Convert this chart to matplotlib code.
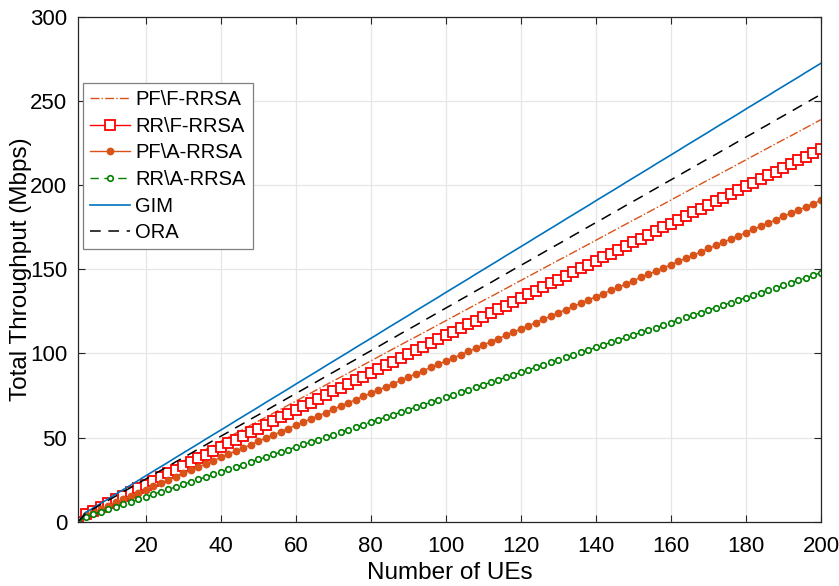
import matplotlib
matplotlib.use("Agg")
import matplotlib.pyplot as plt

# Number of UEs (every second UE from 2 to 200)
num_ues = list(range(2, 201, 2))

pf_f_rrsa = [0.0, 4.8, 7.2, 9.6, 12.0, 14.3, 16.7, 19.1, 21.5, 23.9,
             26.3, 28.7, 31.1, 33.5, 35.9, 38.2, 40.6, 43.0, 45.4, 47.8,
             50.2, 52.6, 55.0, 57.4, 59.8, 62.1, 64.5, 66.9, 69.3, 71.7,
             74.1, 76.5, 78.9, 81.3, 83.7, 86.0, 88.4, 90.8, 93.2, 95.6,
             98.0, 100.4, 102.8, 105.2, 107.6, 109.9, 112.3, 114.7, 117.1, 119.5,
             121.9, 124.3, 126.7, 129.1, 131.5, 133.8, 136.2, 138.6, 141.0, 143.4,
             145.8, 148.2, 150.6, 153.0, 155.4, 157.7, 160.1, 162.5, 164.9, 167.3,
             169.7, 172.1, 174.5, 176.9, 179.3, 181.6, 184.0, 186.4, 188.8, 191.2,
             193.6, 196.0, 198.4, 200.8, 203.2, 205.5, 207.9, 210.3, 212.7, 215.1,
             217.5, 219.9, 222.3, 224.7, 227.1, 229.4, 231.8, 234.2, 236.6, 239.0]

rr_f_rrsa = [0.0, 4.4, 6.6, 8.9, 11.1, 13.3, 15.5, 17.7, 19.9, 22.1,
             24.4, 26.6, 28.8, 31.0, 33.2, 35.4, 37.6, 39.9, 42.1, 44.3,
             46.5, 48.7, 50.9, 53.1, 55.4, 57.6, 59.8, 62.0, 64.2, 66.4,
             68.6, 70.8, 73.1, 75.3, 77.5, 79.7, 81.9, 84.1, 86.3, 88.6,
             90.8, 93.0, 95.2, 97.4, 99.6, 101.8, 104.1, 106.3, 108.5, 110.7,
             112.9, 115.1, 117.3, 119.6, 121.8, 124.0, 126.2, 128.4, 130.6, 132.8,
             135.1, 137.3, 139.5, 141.7, 143.9, 146.1, 148.3, 150.6, 152.8, 155.0,
             157.2, 159.4, 161.6, 163.8, 166.1, 168.3, 170.5, 172.7, 174.9, 177.1,
             179.3, 181.5, 183.8, 186.0, 188.2, 190.4, 192.6, 194.8, 197.0, 199.3,
             201.5, 203.7, 205.9, 208.1, 210.3, 212.5, 214.8, 217.0, 219.2, 221.4]

pf_a_rrsa = [0.0, 3.8, 5.7, 7.6, 9.6, 11.5, 13.4, 15.3, 17.2, 19.1,
             21.0, 22.9, 24.8, 26.7, 28.7, 30.6, 32.5, 34.4, 36.3, 38.2,
             40.1, 42.0, 43.9, 45.8, 47.8, 49.7, 51.6, 53.5, 55.4, 57.3,
             59.2, 61.1, 63.0, 64.9, 66.9, 68.8, 70.7, 72.6, 74.5, 76.4,
             78.3, 80.2, 82.1, 84.0, 86.0, 87.9, 89.8, 91.7, 93.6, 95.5,
             97.4, 99.3, 101.2, 103.1, 105.1, 107.0, 108.9, 110.8, 112.7, 114.6,
             116.5, 118.4, 120.3, 122.2, 124.2, 126.1, 128.0, 129.9, 131.8, 133.7,
             135.6, 137.5, 139.4, 141.3, 143.3, 145.2, 147.1, 149.0, 150.9, 152.8,
             154.7, 156.6, 158.5, 160.4, 162.4, 164.3, 166.2, 168.1, 170.0, 171.9,
             173.8, 175.7, 177.6, 179.5, 181.5, 183.4, 185.3, 187.2, 189.1, 191.0]

rr_a_rrsa = [0.0, 3.0, 4.4, 5.9, 7.4, 8.9, 10.4, 11.8, 13.3, 14.8,
             16.3, 17.8, 19.2, 20.7, 22.2, 23.7, 25.2, 26.6, 28.1, 29.6,
             31.1, 32.6, 34.0, 35.5, 37.0, 38.5, 40.0, 41.4, 42.9, 44.4,
             45.9, 47.4, 48.8, 50.3, 51.8, 53.3, 54.8, 56.2, 57.7, 59.2,
             60.7, 62.2, 63.6, 65.1, 66.6, 68.1, 69.6, 71.0, 72.5, 74.0,
             75.5, 77.0, 78.4, 79.9, 81.4, 82.9, 84.4, 85.8, 87.3, 88.8,
             90.3, 91.8, 93.2, 94.7, 96.2, 97.7, 99.2, 100.6, 102.1, 103.6,
             105.1, 106.6, 108.0, 109.5, 111.0, 112.5, 114.0, 115.4, 116.9, 118.4,
             119.9, 121.4, 122.8, 124.3, 125.8, 127.3, 128.8, 130.2, 131.7, 133.2,
             134.7, 136.2, 137.6, 139.1, 140.6, 142.1, 143.6, 145.0, 146.5, 148.0]

gim = [0.0, 5.5, 8.2, 10.9, 13.6, 16.4, 19.1, 21.8, 24.5, 27.3,
       30.0, 32.7, 35.4, 38.2, 40.9, 43.6, 46.3, 49.1, 51.8, 54.5,
       57.2, 60.0, 62.7, 65.4, 68.1, 70.9, 73.6, 76.3, 79.0, 81.8,
       84.5, 87.2, 89.9, 92.7, 95.4, 98.1, 100.8, 103.6, 106.3, 109.0,
       111.7, 114.5, 117.2, 119.9, 122.6, 125.4, 128.1, 130.8, 133.5, 136.3,
       139.0, 141.7, 144.4, 147.2, 149.9, 152.6, 155.3, 158.1, 160.8, 163.5,
       166.2, 169.0, 171.7, 174.4, 177.1, 179.9, 182.6, 185.3, 188.0, 190.8,
       193.5, 196.2, 198.9, 201.7, 204.4, 207.1, 209.8, 212.6, 215.3, 218.0,
       220.7, 223.5, 226.2, 228.9, 231.6, 234.4, 237.1, 239.8, 242.5, 245.3,
       248.0, 250.7, 253.4, 256.2, 258.9, 261.6, 264.3, 267.1, 269.8, 272.5]

ora = [0.0, 5.1, 7.6, 10.2, 12.7, 15.2, 17.8, 20.3, 22.9, 25.4,
       27.9, 30.5, 33.0, 35.6, 38.1, 40.6, 43.2, 45.7, 48.3, 50.8,
       53.3, 55.9, 58.4, 61.0, 63.5, 66.0, 68.6, 71.1, 73.7, 76.2,
       78.7, 81.3, 83.8, 86.4, 88.9, 91.4, 94.0, 96.5, 99.1, 101.6,
       104.1, 106.7, 109.2, 111.8, 114.3, 116.8, 119.4, 121.9, 124.5, 127.0,
       129.5, 132.1, 134.6, 137.2, 139.7, 142.2, 144.8, 147.3, 149.9, 152.4,
       154.9, 157.5, 160.0, 162.6, 165.1, 167.6, 170.2, 172.7, 175.3, 177.8,
       180.3, 182.9, 185.4, 188.0, 190.5, 193.0, 195.6, 198.1, 200.7, 203.2,
       205.7, 208.3, 210.8, 213.4, 215.9, 218.4, 221.0, 223.5, 226.1, 228.6,
       231.1, 233.7, 236.2, 238.8, 241.3, 243.8, 246.4, 248.9, 251.5, 254.0]

x_ticks = [20, 40, 60, 80, 100, 120, 140, 160, 180, 200]
y_ticks = [0, 50, 100, 150, 200, 250, 300]

plt.rcParams['font.family'] = ['Liberation Sans', 'DejaVu Sans']

fig = plt.figure(figsize=(8.39, 5.86), dpi=100)
ax = fig.add_axes([0.0933, 0.1097, 0.8852, 0.8613])

orange = '#D95319'
blue = '#0072BD'
green = '#008000'

ax.plot(num_ues, pf_f_rrsa, color=orange, linestyle='-.', linewidth=1.0,
        label='PF\\F-RRSA')
ax.plot(num_ues, rr_f_rrsa, color='red', linestyle='-', linewidth=1.0,
        marker='s', markersize=7, markerfacecolor='white',
        markeredgecolor='red', markeredgewidth=1.3, label='RR\\F-RRSA')
ax.plot(num_ues, pf_a_rrsa, color=orange, linestyle='-', linewidth=1.0,
        marker='o', markersize=4.6, markerfacecolor=orange,
        markeredgecolor=orange, label='PF\\A-RRSA')
ax.plot(num_ues, rr_a_rrsa, color=green, linestyle=(0, (6, 4)), linewidth=1.0,
        marker='o', markersize=4.0, markerfacecolor='white',
        markeredgecolor=green, markeredgewidth=1.2, label='RR\\A-RRSA')
ax.plot(num_ues, gim, color=blue, linestyle='-', linewidth=1.2, label='GIM')
ax.plot(num_ues, ora, color='black', linestyle=(0, (7, 5)), linewidth=1.1,
        label='ORA')

ax.set_xlim(2, 200)
ax.set_ylim(0, 300)
ax.set_xticks(x_ticks)
ax.set_yticks(y_ticks)
ax.tick_params(direction='in', length=5, width=0.8, labelsize=16,
               top=True, right=True, colors='#262626', labelcolor='black')
ax.tick_params(axis='x', pad=10)
ax.tick_params(axis='y', pad=8)
ax.grid(True, color='#e6e6e6', linewidth=0.9)
ax.set_axisbelow(True)
for side in ['left', 'bottom', 'top', 'right']:
    ax.spines[side].set_color('#262626')
    ax.spines[side].set_linewidth(0.9)

ax.set_xlabel('Number of UEs', fontsize=17.5)
ax.set_ylabel('Total Throughput (Mbps)', fontsize=17.5)
ax.xaxis.set_label_coords(0.5, -0.08)
ax.yaxis.set_label_coords(-0.062, 0.5)

leg = ax.legend(loc='upper left', bbox_to_anchor=(0.0063, 0.869),
                borderaxespad=0, fontsize=14.5, handlelength=2.0,
                handletextpad=0.25, labelspacing=0.38, borderpad=0.35,
                fancybox=False, framealpha=1, edgecolor='#7f7f7f')
leg.get_frame().set_linewidth(0.9)

fig.savefig('out.png', dpi=100)
